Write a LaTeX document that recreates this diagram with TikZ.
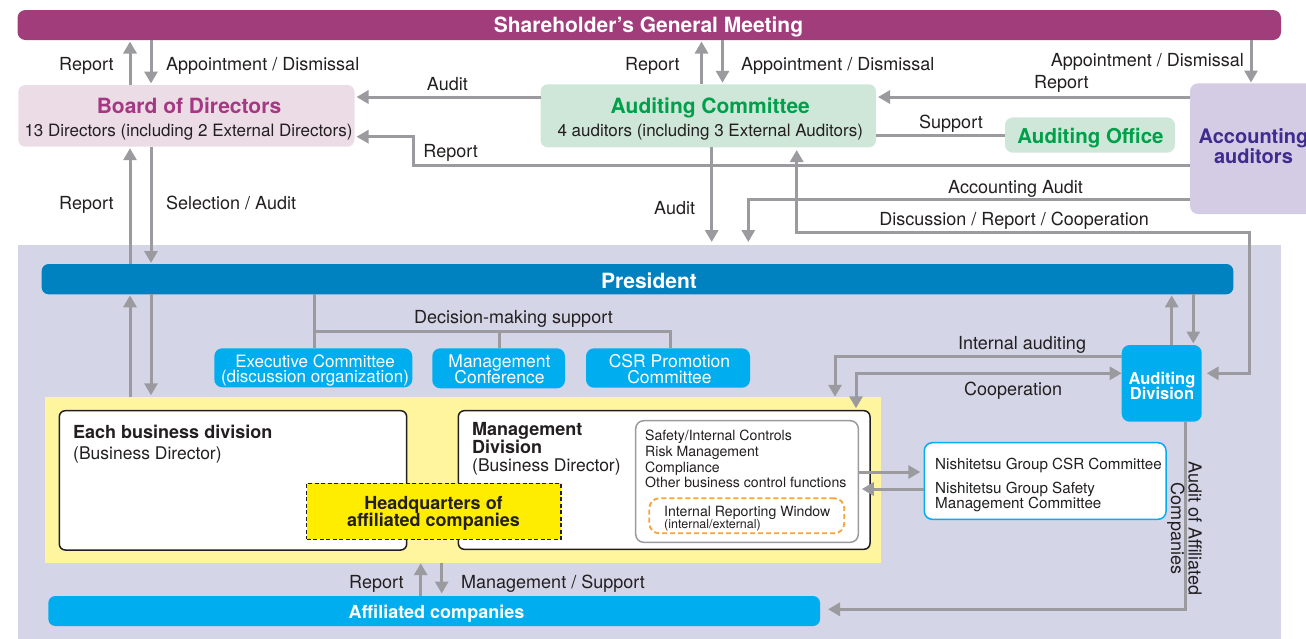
\documentclass[tikz,border=0pt]{standalone}
\usepackage{fontspec}
\setmainfont{TeX Gyre Heros}
\usetikzlibrary{arrows.meta}
\definecolor{sgmC}{HTML}{A23D7C}
\definecolor{bodF}{HTML}{EBDCE6}
\definecolor{bodT}{HTML}{A63883}
\definecolor{acF}{HTML}{CFE7D8}
\definecolor{grT}{HTML}{00A04B}
\definecolor{aaF}{HTML}{D4CCE4}
\definecolor{aaT}{HTML}{3E2C8F}
\definecolor{bgC}{HTML}{D5D5E8}
\definecolor{presC}{HTML}{0081C0}
\definecolor{cyC}{HTML}{00AEEF}
\definecolor{ylC}{HTML}{FFF59F}
\definecolor{hqC}{HTML}{FFED00}
\definecolor{lg}{HTML}{9B9B9F}
\definecolor{orC}{HTML}{F7A438}
\definecolor{tx}{HTML}{231F20}
\newcommand{\myfs}[1]{\fontsize{#1}{#1}\selectfont}
\begin{document}
\begin{tikzpicture}[x=1pt,y=-1pt,
  box/.style={rectangle, inner sep=0pt, outer sep=0pt},
  arr/.style={draw=lg, line width=3pt, -{Triangle[width=13pt,length=12pt]}},
  darr/.style={draw=lg, line width=3pt, {Triangle[width=13pt,length=12pt]}-{Triangle[width=13pt,length=12pt]}},
  ln/.style={draw=lg, line width=3pt},
  lbl/.style={anchor=base west, text=tx, font=\myfs{18}, inner sep=0pt},
  lblr/.style={anchor=base east, text=tx, font=\myfs{18}, inner sep=0pt},
  ctr/.style={anchor=base, text=tx, inner sep=0pt},
  wt/.style={anchor=base, text=white, inner sep=0pt},
  lft/.style={anchor=base west, text=tx, inner sep=0pt}]
\useasboundingbox (0,0) rectangle (1306,638);

% ---------- background areas ----------
\node[box, fill=bgC, minimum width=1262.4pt, minimum height=405pt] (bg) at (649.5,447.5) {};
\node[box, fill=ylC, minimum width=836pt, minimum height=165.4pt] (yl) at (463,480) {};

% ---------- top boxes ----------
\node[box, fill=sgmC, rounded corners=8pt, minimum width=1263.5pt, minimum height=30pt] (sgm) at (649.25,25) {};
\node[box, fill=bodF, rounded corners=7pt, minimum width=336.2pt, minimum height=61.7pt] (bod) at (186.4,115.85) {};
\node[box, fill=acF, rounded corners=7pt, minimum width=335.3pt, minimum height=63pt] (ac) at (708.35,115.8) {};
\node[box, fill=acF, rounded corners=8pt, minimum width=170pt, minimum height=35.4pt] (ao) at (1090,135) {};
\node[box, fill=aaF, rounded corners=8pt, minimum width=126pt, minimum height=130.7pt] (aa) at (1253,148.65) {};

% ---------- president area ----------
\node[box, fill=presC, rounded corners=7pt, minimum width=1191.6pt, minimum height=30.3pt] (pres) at (637.5,279.15) {};
\node[box, fill=cyC, rounded corners=8pt, minimum width=198pt, minimum height=39pt] (exec) at (313.3,367.8) {};
\node[box, fill=cyC, rounded corners=8pt, minimum width=132.7pt, minimum height=40pt] (mc) at (498.65,368.3) {};
\node[box, fill=cyC, rounded corners=8pt, minimum width=164pt, minimum height=39.4pt] (csr) at (668,368) {};
\node[box, fill=cyC, rounded corners=8pt, minimum width=80pt, minimum height=76.7pt] (ad) at (1161.7,383.35) {};

% ---------- divisions ----------
\node[box, fill=white, draw=tx, line width=1.5pt, rounded corners=6pt, minimum width=347.4pt, minimum height=139.3pt] (ebd) at (233,480.35) {};
\node[box, fill=white, draw=tx, line width=1.5pt, rounded corners=6pt, minimum width=411.7pt, minimum height=138.6pt] (md) at (664.15,480) {};
\node[box, fill=white, draw=lg, line width=1.5pt, rounded corners=8pt, minimum width=222.6pt, minimum height=121.6pt] (ib) at (747,481.5) {};
\node[box, draw=orC, line width=1.8pt, dash pattern=on 5pt off 3pt, rounded corners=10pt, minimum width=195pt, minimum height=35pt] (irw) at (746.8,515.8) {};
\node[box, fill=hqC, draw=tx, line width=1.4pt, dash pattern=on 4pt off 2.5pt, minimum width=254.3pt, minimum height=56pt] (hq) at (433.85,511.3) {};
\node[box, fill=white, draw=cyC, line width=1.5pt, rounded corners=8pt, minimum width=241.7pt, minimum height=76.6pt] (ng) at (1045.15,481) {};
\node[box, fill=cyC, rounded corners=7pt, minimum width=771.7pt, minimum height=30pt] (af) at (434.15,611) {};

% ---------- box texts ----------
\node[wt, font=\bfseries\myfs{21}] (t-sgm) at (648.5,32.5) {Shareholder’s General Meeting};
\node[ctr, text=bodT, font=\bfseries\myfs{21}] (t-bod1) at (189,113) {Board of Directors};
\node[ctr, font=\myfs{17}] (t-bod2) at (188.5,136) {13 Directors (including 2 External Directors)};
\node[ctr, text=grT, font=\bfseries\myfs{21}] (t-ac1) at (710.3,113) {Auditing Committee};
\node[ctr, font=\myfs{17}] (t-ac2) at (710.3,136.5) {4 auditors (including 3 External Auditors)};
\node[ctr, text=grT, font=\bfseries\myfs{20.5}] (t-ao) at (1090.5,143) {Auditing Office};
\node[ctr, text=aaT, font=\bfseries\myfs{20}] (t-aa1) at (1253.5,143) {Accounting};
\node[ctr, text=aaT, font=\bfseries\myfs{20}] (t-aa2) at (1253.5,163) {auditors};
\node[wt, font=\bfseries\myfs{21}] (t-pres) at (649,288) {President};
\node[wt, font=\myfs{17}] (t-ex1) at (315,367.5) {Executive Committee};
\node[wt, font=\myfs{17}] (t-ex2) at (315,382) {(discussion organization)};
\node[wt, font=\myfs{17.5}] (t-mc1) at (499.5,367.5) {Management};
\node[wt, font=\myfs{17.5}] (t-mc2) at (499.5,383.5) {Conference};
\node[wt, font=\myfs{17.5}] (t-csr1) at (669.5,367.5) {CSR Promotion};
\node[wt, font=\myfs{17.5}] (t-csr2) at (669.5,383.5) {Committee};
\node[wt, font=\bfseries\myfs{16.5}] (t-ad1) at (1162,384) {Auditing};
\node[wt, font=\bfseries\myfs{16.5}] (t-ad2) at (1162,399.3) {Division};
\node[wt, font=\bfseries\myfs{18}] (t-af) at (436.5,618) {Affiliated companies};
\node[ctr, font=\bfseries\myfs{18}] (t-hq1) at (433.5,509) {Headquarters of};
\node[ctr, font=\bfseries\myfs{18}] (t-hq2) at (433.5,526.5) {affiliated companies};
\node[lft, font=\bfseries\myfs{18}] (t-ebd1) at (73,438) {Each business division};
\node[lft, font=\myfs{17.5}] (t-ebd2) at (73,459) {(Business Director)};
\node[lft, font=\bfseries\myfs{18}] (t-md1) at (472,435) {Management};
\node[lft, font=\bfseries\myfs{18}] (t-md2) at (472,453) {Division};
\node[lft, font=\myfs{17.5}] (t-md3) at (472,471.5) {(Business Director)};
\node[lft, font=\myfs{14.1}] (t-ib1) at (645,440.7) {Safety/Internal Controls};
\node[lft, font=\myfs{14.1}] (t-ib2) at (645,456.5) {Risk Management};
\node[lft, font=\myfs{14.1}] (t-ib3) at (645,472.3) {Compliance};
\node[lft, font=\myfs{14.1}] (t-ib4) at (645,487.8) {Other business control functions};
\node[lft, font=\myfs{14.1}] (t-irw1) at (664,516) {Internal Reporting Window};
\node[lft, font=\myfs{12.5}] (t-irw2) at (664,528.5) {(internal/external)};
\node[lft, font=\myfs{15.2}] (t-ng1) at (935,469) {Nishitetsu Group CSR Committee};
\node[lft, font=\myfs{15.2}] (t-ng2) at (935,493) {Nishitetsu Group Safety};
\node[lft, font=\myfs{15.2}] (t-ng3) at (935,508) {Management Committee};

% ---------- connectors: top ----------
\draw[arr, shorten >=1.5pt] (bod.north -| 130,0) -- (sgm.south -| 130,0);
\draw[arr, shorten >=1.5pt] (sgm.south -| 151,0) -- (bod.north -| 151,0);
\draw[arr, shorten >=1.5pt] (ac.north -| 701.5,0) -- (sgm.south -| 701.5,0);
\draw[arr, shorten >=1.5pt] (sgm.south -| 722.5,0) -- (ac.north -| 722.5,0);
\draw[arr, shorten >=0.8pt] (sgm.south -| 1251,0) -- (aa.north -| 1251,0);
\draw[arr, shorten >=2pt] (ac.west |- 0,97) -- (bod.east |- 0,97);
\draw[arr, shorten >=2pt] (aa.west |- 0,97) -- (ac.east |- 0,97);
\draw[ln] (ao.west) -- (ac.east |- ao.west);
\draw[arr, shorten >=2pt] (aa.west |- 0,165.7) -- (413,165.7) -- (413,136.7) -- (bod.east |- 0,136.7);
\draw[arr, shorten >=3pt] (aa.west |- 0,199.3) -- (748.3,199.3) -- (bg.north -| 748.3,0);
\draw[arr, shorten >=3pt] (ac.south -| 711.7,0) -- (bg.north -| 711.7,0);
\draw[darr, shorten <=2.7pt, shorten >=5pt] (ac.south -| 796.7,0) -- (796.7,232) -- (1249,232) -- (1249,373.3) -- (ad.east |- 0,373.3);

% ---------- connectors: president ----------
\draw[arr, shorten >=1.5pt] (pres.north -| 130,0) -- (bod.south -| 130,0);
\draw[arr, shorten >=1pt] (bod.south -| 151,0) -- (pres.north -| 151,0);
\draw[arr, shorten >=1pt] (yl.north -| 130,0) -- (pres.south -| 130,0);
\draw[arr, shorten >=2pt] (pres.south -| 151,0) -- (yl.north -| 151,0);
\draw[ln] (pres.south -| 314.5,0) -- (exec.north -| 314.5,0);
\draw[ln] (314.5,331.7) -- (670,331.7) -- (csr.north -| 670,0);
\draw[ln] (499.5,331.7) -- (mc.north -| 499.5,0);
\draw[arr, shorten >=1pt] (ad.north -| 1171.7,0) -- (pres.south -| 1171.7,0);
\draw[arr, shorten >=1.5pt] (pres.south -| 1193.3,0) -- (ad.north -| 1193.3,0);
\draw[arr, shorten >=0.5pt] (ad.west |- 0,356.7) -- (835,356.7) -- (yl.north -| 835,0);
\draw[darr, shorten >=2.4pt] (ad.west |- 0,373.3) -- (856,373.3) -- (md.north -| 856,0);
\draw[arr, shorten >=8pt] (ad.south -| 1185,0) -- (1185,609.3) -- (af.east |- 0,609.3);
\draw[arr, shorten >=4pt] (ib.east |- 0,472) -- (ng.west |- 0,472);
\draw[arr, shorten >=3.5pt] (ng.west |- 0,489) -- (ib.east |- 0,489);
\draw[arr, shorten >=0.5pt] (af.north -| 420.7,0) -- (yl.south -| 420.7,0);
\draw[arr, shorten >=2.5pt] (yl.south -| 441.7,0) -- (af.north -| 441.7,0);

% ---------- connector labels ----------
\node[lbl] (l-rep1) at (59,70) {Report};
\node[lbl] (l-app1) at (166,70) {Appointment / Dismissal};
\node[lblr] (l-aud1) at (468,90) {Audit};
\node[lbl] (l-rep2) at (625,70) {Report};
\node[lbl] (l-app2) at (741,70) {Appointment / Dismissal};
\node[lblr] (l-app3) at (1244,66) {Appointment / Dismissal};
\node[lbl] (l-rep3) at (1034,88) {Report};
\node[lbl] (l-sup) at (919,128) {Support};
\node[lblr] (l-rep4) at (478,157) {Report};
\node[lbl] (l-acca) at (948,193) {Accounting Audit};
\node[lblr] (l-disc) at (1149,225) {Discussion / Report / Cooperation};
\node[lbl] (l-aud2) at (654,214) {Audit};
\node[lbl] (l-rep5) at (59,209) {Report};
\node[lbl] (l-sel) at (166,209) {Selection / Audit};
\node[lbl] (l-dec) at (414,323) {Decision-making support};
\node[lbl] (l-int) at (958,349) {Internal auditing};
\node[lbl] (l-coop) at (964,395) {Cooperation};
\node[lbl] (l-rep6) at (349,588) {Report};
\node[lbl] (l-mgs) at (461,588) {Management / Support};
\node[ctr, rotate=-90, font=\myfs{18}] (l-aoa1) at (1188.5,528.5) {Audit of Affiliated};
\node[ctr, rotate=-90, font=\myfs{18}] (l-aoa2) at (1171,528.5) {Companies};
\end{tikzpicture}
\end{document}
